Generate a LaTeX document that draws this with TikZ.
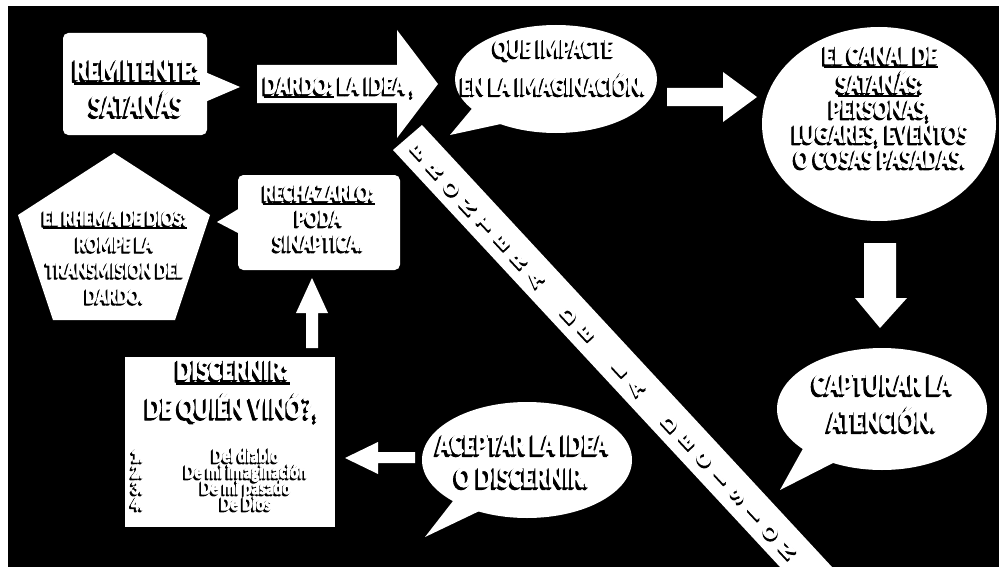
\documentclass[tikz,border=0pt]{standalone}
\usepackage{fontspec}
\newfontfamily\hf[FakeStretch=0.8]{Carlito Bold}
\newfontfamily\bandfont{Carlito Bold}
\newcommand\bld[1]{\special{pdf:literal direct 2 Tr 0.8 w 1 j}#1\special{pdf:literal direct 0 Tr}}
\newcommand\shl[2]{\rlap{\kern-#1em\raisebox{-#1em}{\color{black}\bld{#2}}}}
\newcommand\shd[1]{\leavevmode\shl{0.09}{#1}\shl{0.045}{#1}{\color{white}\bld{#1}}}
\newcommand\shu[1]{\leavevmode\setbox0\hbox{#1}\rlap{\color{black}\rule[-0.17em]{\wd0}{0.08em}}\shd{#1}}
\newcommand\fsz[2]{\fontsize{#1}{#2}\selectfont}
\begin{document}
\begin{tikzpicture}[x=0.75pt,y=-0.75pt,
  txt/.style={text=white, align=center, inner sep=0pt},
  wfill/.style={fill=white, draw=none}]
\useasboundingbox (0,0) rectangle (999,567);
\fill[white] (0,0) rectangle (999,567);
\fill[black] (8,6) rectangle (999,567);

% diagonal band
\fill[wfill] (393,150) -- (422,125) -- (832,567) -- (780,567) -- cycle;
\foreach \c [count=\i from 0] in {F,R,O,N,T,E,R,A,{},D,E,{},L,A,{},D,E,C,I,S,I,O,N}{
  \node[txt, rotate=43, font=\bandfont\fsz{16}{16}] (b\i) at ({418+\i*16.8},{152+\i*18.1}) {\shd{\c}};
}

% REMITENTE
\fill[wfill, rounded corners=4pt] (63,33) rectangle (207,135);
\fill[wfill] (205,72) -- (240,87) -- (205,102) -- cycle;
\node[txt, font=\hf\fsz{23.25}{27}] (remitente) at (137,89) {\shu{REMITENTE:}\\\shd{SATANÁS}};

% DARDO arrow
\fill[wfill] (257,65) -- (397,65) -- (397,30) -- (438,84) -- (397,138) -- (397,103) -- (257,103) -- cycle;
\node[txt, font=\hf\fsz{19.5}{22}] (dardo) at (340,88) {\shu{DARDO:}\ \shd{LA IDEA ,}};

% QUE IMPACTE bubble
\fill[wfill] (556,79) ellipse [x radius=101, y radius=54];
\fill[wfill] (475,105) -- (450,135) -- (510,122) -- cycle;
\node[txt, font=\hf\fsz{19.5}{28.5}] (impacte) at (554,68) {\shd{QUE IMPACTE}\\\shd{EN LA IMAGINACIÓN.}};

% arrow right 2
\fill[wfill] (667,88) -- (723,88) -- (723,72) -- (757,97) -- (723,122) -- (723,106) -- (667,106) -- cycle;

% CANAL ellipse
\fill[wfill] (879,124) ellipse [x radius=117, y radius=97];
\node[txt, font=\hf\fsz{20.25}{18.75}] (canal) at (881,108) {\shu{EL CANAL DE}\\\shu{SATANÁS}\shd{:}\\\shd{PERSONAS,}\\\shd{LUGARES, EVENTOS}\\\shd{O COSAS PASADAS.}};

% down arrow
\fill[wfill] (864,243) -- (896,243) -- (896,298) -- (907,298) -- (880,328) -- (855,298) -- (864,298) -- cycle;

% CAPTURAR bubble
\fill[wfill] (882,409) ellipse [x radius=105, y radius=61];
\fill[wfill] (805,445) -- (780,490) -- (835,462) -- cycle;
\node[txt, font=\hf\fsz{22.5}{27.75}] (capturar) at (883,404) {\shd{CAPTURAR LA}\\\shd{ATENCIÓN.}};

% ACEPTAR bubble
\fill[wfill] (527,460) ellipse [x radius=105, y radius=58];
\fill[wfill] (460,492) -- (425,537) -- (492,505) -- cycle;
\node[txt, font=\hf\fsz{22.5}{24.75}] (aceptar) at (523,462) {\shd{ACEPTAR LA IDEA}\\\shd{O DISCERNIR.}};

% left arrow
\fill[wfill] (415,452) -- (378,452) -- (378,442) -- (345,458) -- (378,474) -- (378,463) -- (415,463) -- cycle;

% DISCERNIR box
\fill[wfill] (125,357) rectangle (335,527);
\node[txt, font=\hf\fsz{22.5}{28.5}] (discernir) at (233,392) {\shu{DISCERNIR:}\\\shd{DE QUIÉN VINÓ?,}};
\foreach \n/\t/\yy in {1/Del diablo/462, 2/De mi imaginación/478, 3/De mi pasado/494, 4/De Dios/510}{
  \node[txt, anchor=base west, font=\hf\fsz{15}{15}] (num\n) at (131,\yy) {\shd{\n.}};
  \node[txt, anchor=base, font=\hf\fsz{15}{15}] (item\n) at (246,\yy) {\shd{\t}};
}

% up arrow
\fill[wfill] (306,348) -- (318,348) -- (318,313) -- (328,313) -- (312,278) -- (296,313) -- (306,313) -- cycle;

% RECHAZARLO box
\fill[wfill, rounded corners=4pt] (238,175) rectangle (400,270);
\fill[wfill] (240,208) -- (217,222) -- (240,234) -- cycle;
\node[txt, font=\hf\fsz{18}{18.75}] (rechazar) at (319,219) {\shu{RECHAZARLO:}\\\shd{PODA}\\\shd{SINAPTICA.}};

% pentagon
\fill[wfill] (114,153) -- (210,215) -- (175,320) -- (53,320) -- (18,215) -- cycle;
\node[txt, font=\hf\fsz{16.5}{19.5}] (rhema) at (115,258) {\shu{EL RHEMA DE DIOS:}\\\shd{ROMPE LA}\\\shd{TRANSMISION DEL}\\\shd{DARDO.}};
\end{tikzpicture}
\end{document}
